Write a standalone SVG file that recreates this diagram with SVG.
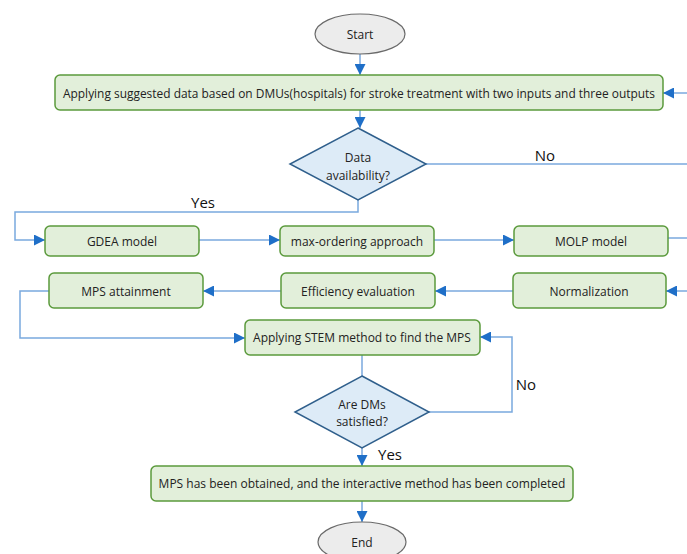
<svg xmlns="http://www.w3.org/2000/svg" width="687" height="554" viewBox="0 0 687 554">
<defs>
<marker id="ah" viewBox="0 0 10 10" refX="10" refY="5" markerWidth="11" markerHeight="11" markerUnits="userSpaceOnUse" orient="auto">
<path d="M0,0 L10,5 L0,10 z" fill="#1f6fc8"/>
</marker>
<style>
.box{fill:#e2efda;stroke:#5b9a3c;stroke-width:1.5}
.dia{fill:#ddebf7;stroke:#2f5f8c;stroke-width:1.5}
.ell{fill:#ececec;stroke:#6a6a6a;stroke-width:1.2}
.t{font-family:"Open Sans","Liberation Sans",sans-serif;font-size:12px;fill:#222;text-anchor:middle;dominant-baseline:central}
.lbl{font-family:"Open Sans","Liberation Sans",sans-serif;font-size:15px;fill:#111;text-anchor:middle;dominant-baseline:central}
.c{fill:none;stroke:#7aa9de;stroke-width:1.5}
.ca{fill:none;stroke:#7aa9de;stroke-width:1.5;marker-end:url(#ah)}
</style>
</defs>
<g id="connectors">
<path class="ca" d="M360,54 V75"/>
<path class="ca" d="M687,93 H663"/>
<path class="ca" d="M360,110 V128"/>
<path class="c" d="M426,164 H687"/>
<path class="ca" d="M358,200 V212 H15 V240 H45"/>
<path class="ca" d="M199,240 H280"/>
<path class="ca" d="M434,240 H514"/>
<path class="c" d="M668,238 H687"/>
<path class="ca" d="M687,291 H666"/>
<path class="ca" d="M513,291 H435"/>
<path class="ca" d="M281,291 H203"/>
<path class="ca" d="M49,291 H20 V338 H245"/>
<path class="ca" d="M362,355 V393"/>
<path class="ca" d="M429,412 H512 V337 H480"/>
<path class="ca" d="M362,448 V466"/>
<path class="ca" d="M362,501 V522"/>
<text class="lbl" x="545" y="155">No</text>
<text class="lbl" x="203" y="202">Yes</text>
<text class="lbl" x="526" y="384">No</text>
<text class="lbl" x="390" y="454">Yes</text>
</g>
<g id="start"><ellipse class="ell" cx="360" cy="34" rx="45" ry="20"/><text class="t" x="360" y="34">Start</text></g>
<g id="apply-data"><rect class="box" x="55" y="75" width="608" height="35" rx="5"/><text class="t" x="359" y="93" textLength="592" lengthAdjust="spacingAndGlyphs">Applying suggested data based on DMUs(hospitals) for stroke treatment with two inputs and three outputs</text></g>
<g id="data-availability"><polygon class="dia" points="358,128 426,164 358,200 290,164"/><text class="t" x="358" y="157">Data</text><text class="t" x="358" y="175">availability?</text></g>
<g id="gdea"><rect class="box" x="45" y="226" width="154" height="30" rx="5"/><text class="t" x="122" y="241">GDEA model</text></g>
<g id="max-ordering"><rect class="box" x="280" y="226" width="154" height="30" rx="5"/><text class="t" x="357" y="241">max-ordering approach</text></g>
<g id="molp"><rect class="box" x="514" y="226" width="154" height="30" rx="5"/><text class="t" x="591" y="241">MOLP model</text></g>
<g id="mps-attainment"><rect class="box" x="49" y="273" width="154" height="35" rx="5"/><text class="t" x="126" y="291">MPS attainment</text></g>
<g id="efficiency"><rect class="box" x="281" y="273" width="154" height="35" rx="5"/><text class="t" x="358" y="291">Efficiency evaluation</text></g>
<g id="normalization"><rect class="box" x="513" y="273" width="153" height="35" rx="5"/><text class="t" x="589" y="291">Normalization</text></g>
<g id="stem"><rect class="box" x="245" y="320" width="235" height="35" rx="5"/><text class="t" x="362" y="337">Applying STEM method to find the MPS</text></g>
<g id="dms-satisfied"><polygon class="dia" points="362,376 429,412 362,448 295,412"/><text class="t" x="362" y="404">Are DMs</text><text class="t" x="362" y="421">satisfied?</text></g>
<g id="mps-obtained"><rect class="box" x="151" y="466" width="422" height="35" rx="5"/><text class="t" x="362" y="483">MPS has been obtained, and the interactive method has been completed</text></g>
<g id="end"><ellipse class="ell" cx="362" cy="542" rx="44" ry="20"/><text class="t" x="362" y="542">End</text></g>
</svg>
